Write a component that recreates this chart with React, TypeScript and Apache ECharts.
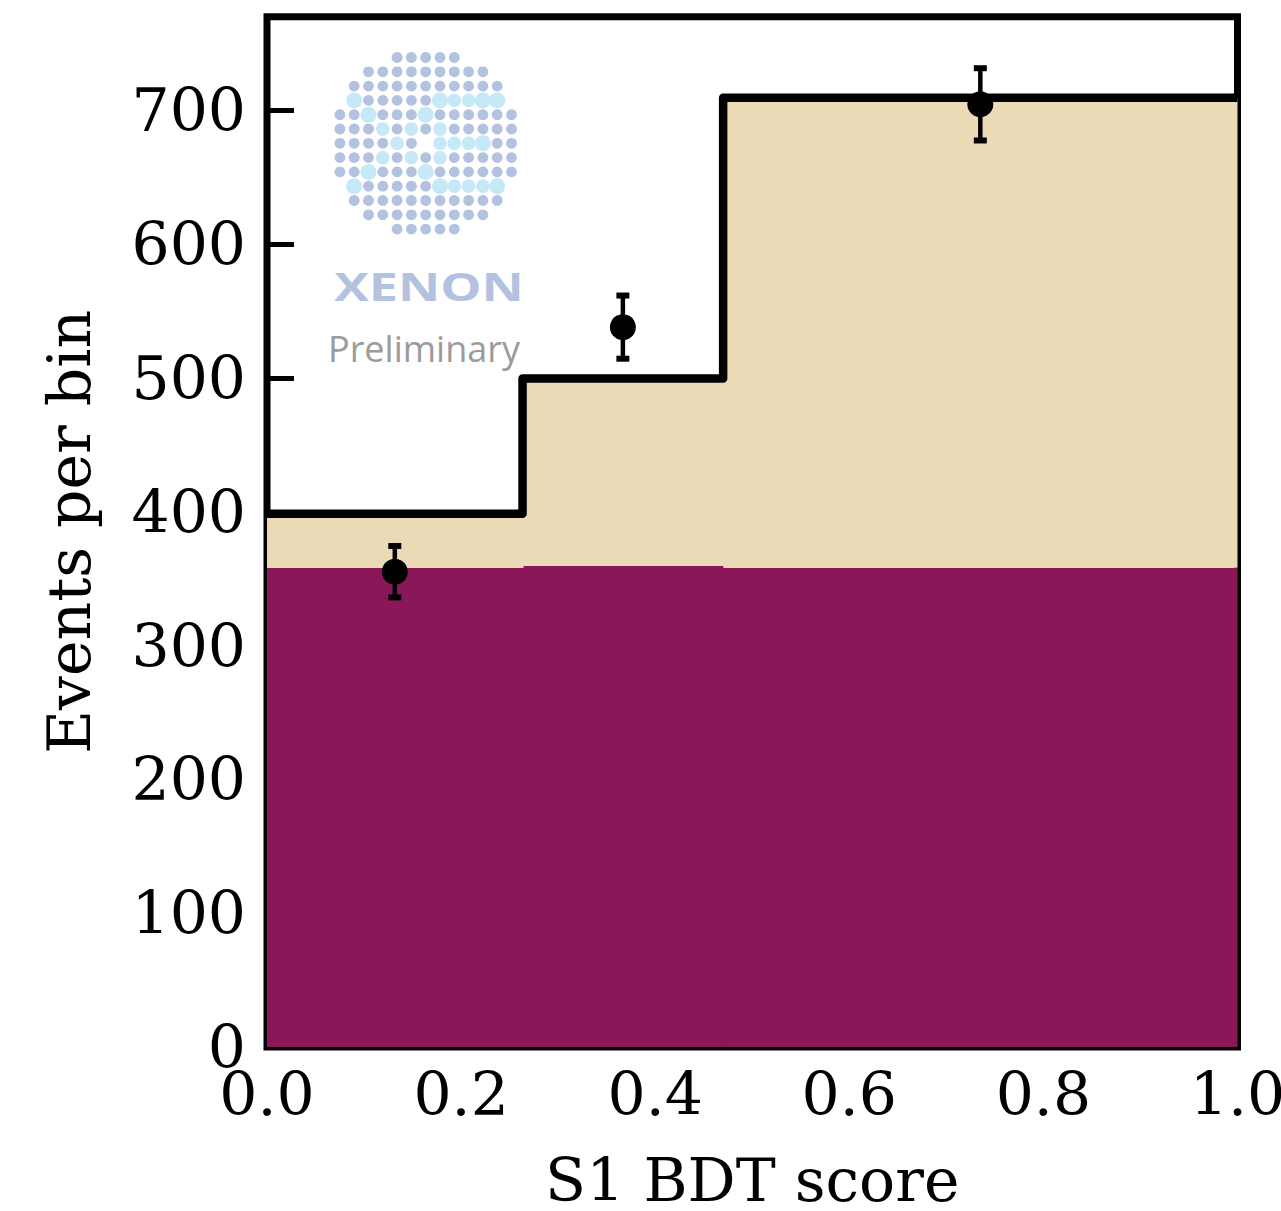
import React, { useEffect, useRef } from "react";
import * as echarts from "echarts";

// Histogram bin edges on the S1 BDT score axis
const binEdges = [0, 0.2633, 0.47, 1.0];
// Lower (purple) background component per bin
const purpleCounts = [358.0, 359.7, 358.2];
// Total expected counts per bin (top of the beige stack, black step)
const totalCounts = [398.5, 499.6, 709.5];
// Observed data points with symmetric errors
const pointX = [0.1317, 0.3667, 0.735];
const pointY = [355.2, 538.0, 704.5];
const pointErr = [19.2, 23.6, 27.0];
// Axis ticks
const yTicks = [0, 100, 200, 300, 400, 500, 600, 700];
const xTicks = [0.0, 0.2, 0.4, 0.6, 0.8, 1.0];

// Logo dot grid: '.' empty, 'o' regular dot, 'l' light dot, 'L' large light dot
const logoRows = [
  "....ooooo....",
  "..ooooooooo..",
  ".ooooooooooo.",
  ".LoooooLllLL.",
  "ooLoooLoooooo",
  "ooolololooooo",
  "oooolo.lllLoo",
  "ooolololooooo",
  "ooLoooLoooooo",
  ".LoooooLlllL.",
  ".ooooooooooo.",
  "..ooooooooo..",
  "....ooooo....",
];

const PURPLE = "#8a1858";
const BEIGE = "#ecdab6";
const SERIF = "'DejaVu Serif', serif";
const FONT_SIZE = 60;

function buildLogo() {
  const cx = 425.7;
  const cy = 143.3;
  const step = 14.3;
  const children: any[] = [];
  logoRows.forEach((row, r) => {
    row.split("").forEach((ch, c) => {
      if (ch === ".") return;
      const light = ch !== "o";
      const radius = ch === "L" ? 8 : ch === "l" ? 6.8 : 5.4;
      children.push({
        type: "circle",
        shape: { cx: cx + (c - 6) * step, cy: cy + (r - 6) * step, r: radius },
        style: { fill: light ? "#c6e9f8" : "#b3c2e1" },
        silent: true,
      });
    });
  });
  children.push({
    type: "text",
    x: 429,
    y: 285,
    scaleX: 1.3,
    style: {
      text: "XENON",
      fill: "#b3c2e1",
      font: "bold 40px 'Open Sans', sans-serif",
      align: "center",
      verticalAlign: "middle",
    },
    silent: true,
  });
  children.push({
    type: "text",
    x: 328,
    y: 348,
    style: {
      text: "Preliminary",
      fill: "#9b9b9b",
      font: "36px 'Open Sans', sans-serif",
      align: "left",
      verticalAlign: "middle",
    },
    silent: true,
  });
  return children;
}

export default function App() {
  const ref = useRef<HTMLDivElement>(null);

  useEffect(() => {
    if (!ref.current) return;
    const chart = echarts.init(ref.current, undefined, { renderer: "svg" });

    const purpleData = purpleCounts.map((v, i) => [binEdges[i], binEdges[i + 1], 0, v]);
    const beigeData = totalCounts.map((v, i) => [binEdges[i], binEdges[i + 1], purpleCounts[i], v]);
    const stepData: number[][] = totalCounts.map((v, i) => [binEdges[i], v]);
    stepData.push([binEdges[binEdges.length - 1], totalCounts[totalCounts.length - 1]]);
    const errData = pointX.map((x, i) => [x, pointY[i] - pointErr[i], pointY[i] + pointErr[i]]);
    const scatterData = pointX.map((x, i) => [x, pointY[i]]);

    // Bin rectangles; inner bins overlap their right neighbour by a pixel to avoid seams
    const rectRender = (color: string, count: number) => (params: any, api: any) => {
      const p0 = api.coord([api.value(0), api.value(3)]);
      const p1 = api.coord([api.value(1), api.value(2)]);
      const extra = params.dataIndex < count - 1 ? 1 : 0;
      return {
        type: "rect",
        shape: { x: p0[0], y: p0[1], width: p1[0] - p0[0] + extra, height: p1[1] - p0[1] },
        style: { fill: color },
      };
    };

    chart.setOption({
      animation: false,
      backgroundColor: "#ffffff",
      grid: {
        left: 267,
        right: 43.5,
        top: 16.7,
        bottom: 164,
        containLabel: false,
        outerBoundsMode: "none",
        show: true,
        borderColor: "#000000",
        borderWidth: 7,
        backgroundColor: "transparent",
      },
      xAxis: {
        type: "value",
        min: 0,
        max: 1,
        interval: 0.2,
        name: "S1 BDT score",
        nameLocation: "middle",
        nameGap: 106,
        nameTextStyle: { fontFamily: SERIF, fontSize: FONT_SIZE, color: "#000", lineHeight: 54 },
        axisLine: { show: false },
        axisTick: { show: true, inside: true, length: 27, lineStyle: { width: 5, color: "#000" } },
        axisLabel: {
          fontFamily: SERIF,
          fontSize: FONT_SIZE,
          color: "#000",
          margin: 17,
          formatter: (v: number) => (xTicks.some((t) => Math.abs(t - v) < 1e-9) ? v.toFixed(1) : ""),
        },
        splitLine: { show: false },
      },
      yAxis: {
        type: "value",
        min: 0,
        max: 770,
        interval: 100,
        name: "Events per bin",
        nameLocation: "middle",
        nameGap: 168,
        nameTextStyle: { fontFamily: SERIF, fontSize: FONT_SIZE, color: "#000" },
        axisLine: { show: false },
        axisTick: { show: true, inside: true, length: 27, lineStyle: { width: 5, color: "#000" } },
        axisLabel: {
          fontFamily: SERIF,
          fontSize: FONT_SIZE,
          color: "#000",
          margin: 21,
          showMaxLabel: false,
          formatter: (v: number) => (yTicks.includes(v) ? String(v) : ""),
        },
        splitLine: { show: false },
      },
      graphic: [{ type: "group", z: 1, children: buildLogo() }],
      series: [
        {
          type: "custom",
          name: "purple",
          z: 2,
          renderItem: rectRender(PURPLE, purpleData.length),
          encode: { x: [0, 1], y: [2, 3] },
          data: purpleData,
        },
        {
          type: "custom",
          name: "beige",
          z: 2,
          renderItem: rectRender(BEIGE, beigeData.length),
          encode: { x: [0, 1], y: [2, 3] },
          data: beigeData,
        },
        {
          type: "line",
          name: "total",
          z: 3,
          step: "end",
          symbol: "none",
          lineStyle: { color: "#000", width: 8.5, join: "round" },
          data: stepData,
        },
        {
          type: "custom",
          name: "errors",
          z: 4,
          encode: { x: 0, y: [1, 2] },
          renderItem: (params: any, api: any) => {
            const lo = api.coord([api.value(0), api.value(1)]);
            const hi = api.coord([api.value(0), api.value(2)]);
            const capHalf = 6.5;
            const capStyle = { stroke: "#000", lineWidth: 6 };
            return {
              type: "group",
              children: [
                { type: "line", shape: { x1: lo[0], y1: lo[1], x2: hi[0], y2: hi[1] }, style: { stroke: "#000", lineWidth: 4.5 } },
                { type: "line", shape: { x1: lo[0] - capHalf, y1: lo[1], x2: lo[0] + capHalf, y2: lo[1] }, style: capStyle },
                { type: "line", shape: { x1: hi[0] - capHalf, y1: hi[1], x2: hi[0] + capHalf, y2: hi[1] }, style: capStyle },
              ],
            };
          },
          data: errData,
        },
        {
          type: "scatter",
          name: "data",
          z: 5,
          symbol: "circle",
          symbolSize: 26,
          itemStyle: { color: "#000", opacity: 1 },
          data: scatterData,
        },
      ],
    });

    return () => chart.dispose();
  }, []);

  return (
    <div
      ref={ref}
      style={{ position: "absolute", left: 0, top: 0, width: 1281, height: 1211 }}
    />
  );
}
